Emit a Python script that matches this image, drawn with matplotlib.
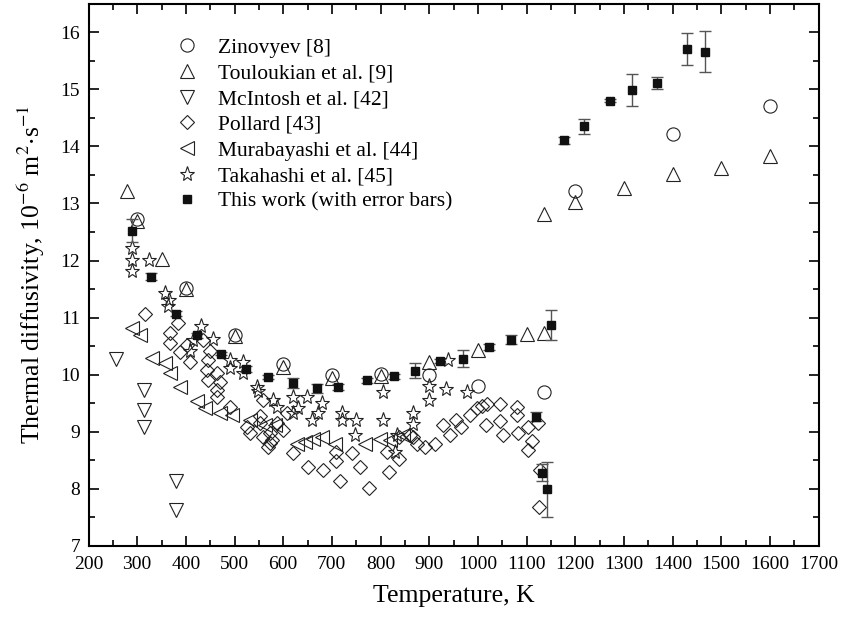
import matplotlib
matplotlib.use('Agg')
import matplotlib.pyplot as plt
from matplotlib.ticker import MultipleLocator

plt.rcParams['font.family'] = ['Liberation Serif', 'DejaVu Serif']
plt.rcParams['mathtext.fontset'] = 'stix'

# Zinovyev [8]
zin_T = [300, 400, 500, 600, 700, 800, 900, 1000, 1135, 1200, 1400, 1600]
zin_a = [12.72, 11.52, 10.70, 10.18, 9.99, 10.01, 10.00, 9.80, 9.70, 13.21, 14.21, 14.70]

# Touloukian et al. [9]
tou_T = [280, 300, 350, 400, 500, 600, 700, 800, 900, 1000, 1100, 1135, 1135, 1200, 1300, 1400, 1500, 1600]
tou_a = [13.22, 12.70, 12.02, 11.50, 10.68, 10.14, 9.95, 9.98, 10.22, 10.43, 10.72, 10.73, 12.82, 13.03, 13.27, 13.52, 13.62, 13.83]

# McIntosh et al. [42]
mci_T = [256, 315, 315, 315, 380, 380]
mci_a = [10.27, 9.73, 9.38, 9.08, 8.13, 7.63]

# Pollard [43]
pol_T = [316, 384, 367, 367, 388, 402, 408, 436, 450, 446, 443, 463, 446, 470, 463, 463,
         491, 525, 532, 552, 552, 559, 559, 573, 573, 569, 576, 587, 600, 607, 621, 650,
         681, 709, 709, 717, 741, 758, 777, 813, 818, 837, 838, 861, 867, 874, 892, 912,
         929, 943, 956, 966, 984, 998, 1008, 1017, 1018, 1046, 1046, 1052, 1080, 1080, 1083,
         1104, 1111, 1104, 1124, 1128, 1126]
pol_a = [11.07, 10.90, 10.73, 10.56, 10.39, 10.52, 10.23, 10.61, 10.41, 10.26, 10.08, 10.03, 9.91, 9.88, 9.73, 9.61,
         9.44, 9.09, 8.98, 9.27, 9.15, 8.91, 9.55, 8.98, 8.80, 8.73, 8.86, 9.15, 9.03, 9.32, 8.62, 8.38,
         8.33, 8.48, 8.65, 8.13, 8.62, 8.39, 8.02, 8.65, 8.30, 8.91, 8.53, 8.94, 8.91, 8.79, 8.73, 8.79,
         9.11, 8.94, 9.20, 9.09, 9.29, 9.41, 9.45, 9.11, 9.49, 9.49, 9.19, 8.94, 9.44, 9.30, 8.98,
         9.09, 8.83, 8.68, 9.15, 8.33, 7.68]

# Murabayashi et al. [44]
mur_T = [289, 306, 330, 357, 367, 388, 422, 439, 470, 494, 532, 563, 583, 628, 645, 662, 679, 707, 768, 799, 820, 847]
mur_a = [10.81, 10.70, 10.29, 10.20, 10.03, 9.79, 9.53, 9.41, 9.33, 9.29, 9.20, 9.11, 9.11, 8.79, 8.82, 8.88, 8.91, 8.79, 8.79, 8.88, 8.86, 8.94]

# Takahashi et al. [45]
tak_T = [290, 290, 290, 324, 358, 365, 363, 415, 408, 432, 456, 491, 518, 491, 518, 546, 549,
         580, 587, 621, 648, 631, 621, 679, 672, 659, 720, 720, 750, 748, 806, 806, 833, 830,
         867, 867, 900, 900, 935, 939, 978]
tak_a = [12.22, 12.01, 11.81, 12.01, 11.43, 11.31, 11.20, 10.60, 10.41, 10.86, 10.63, 10.26, 10.23, 10.11, 10.03, 9.78, 9.72,
         9.55, 9.43, 9.61, 9.61, 9.41, 9.32, 9.51, 9.32, 9.20, 9.32, 9.20, 9.20, 8.94, 9.70, 9.20, 8.94, 8.65,
         9.32, 9.14, 9.80, 9.55, 9.75, 10.26, 9.70]

# This work
tw_T = [289, 329, 379, 423, 473, 524, 569, 621, 669, 713, 772, 828, 871, 922, 969, 1022, 1068,
        1120, 1131, 1142, 1150, 1176, 1218, 1272, 1316, 1369, 1430, 1467]
tw_a = [12.52, 11.72, 11.07, 10.69, 10.37, 10.10, 9.96, 9.85, 9.76, 9.78, 9.90, 9.97, 10.07, 10.24, 10.28, 10.49, 10.61,
        9.26, 8.28, 7.99, 10.87, 14.11, 14.35, 14.80, 14.98, 15.11, 15.71, 15.66]
tw_err = [0.20, 0.06, 0.04, 0.04, 0.03, 0.05, 0.03, 0.09, 0.08, 0.05, 0.04, 0.05, 0.13, 0.03, 0.15, 0.05, 0.08,
          0.08, 0.15, 0.48, 0.26, 0.06, 0.13, 0.03, 0.28, 0.11, 0.28, 0.36]

fig = plt.figure(figsize=(8.43, 6.21), dpi=100)
ax = fig.add_axes([0.105, 0.121, 0.866, 0.873])

ec = '#222222'
kw = dict(ls='none', mfc='none', mec=ec, mew=0.8)
ax.plot(zin_T, zin_a, marker='o', ms=9.5, label='Zinovyev [8]', **kw)
ax.plot(tou_T, tou_a, marker='^', ms=10.5, label='Touloukian et al. [9]', **kw)
ax.plot(mci_T, mci_a, marker='v', ms=10.5, label='McIntosh et al. [42]', **kw)
ax.plot(pol_T, pol_a, marker='D', ms=7.5, label='Pollard [43]', **kw)
ax.plot(mur_T, mur_a, marker='<', ms=10.5, label='Murabayashi et al. [44]', **kw)
ax.plot(tak_T, tak_a, marker='*', ms=11, label='Takahashi et al. [45]', **kw)
ax.errorbar(tw_T, tw_a, yerr=tw_err, fmt='none', ecolor='#555555', elinewidth=1.0, capsize=4, capthick=1.0)
ax.plot(tw_T, tw_a, ls='none', marker='s', ms=5.5, color='#111111', label='This work (with error bars)')

ax.set_xlim(200, 1700)
ax.set_ylim(7, 16.5)
ax.xaxis.set_major_locator(MultipleLocator(100))
ax.xaxis.set_minor_locator(MultipleLocator(50))
ax.yaxis.set_major_locator(MultipleLocator(1))
ax.yaxis.set_minor_locator(MultipleLocator(0.5))
ax.tick_params(which='both', direction='in', top=True, right=True, labelsize=14, width=1.2)
ax.tick_params(which='major', length=7)
ax.tick_params(which='minor', length=4)
ax.tick_params(axis='x', pad=7)
ax.tick_params(axis='y', pad=6)
for s in ax.spines.values():
    s.set_linewidth(1.5)

ax.set_xlabel('Temperature, K', fontsize=18.5, labelpad=9)
ax.set_ylabel(r'Thermal diffusivity, 10$^{-6}$ m$^{2}$$\cdot$s$^{-1}$', fontsize=18.5, labelpad=10)

ax.legend(loc='upper left', bbox_to_anchor=(0.085, 0.965), frameon=False, fontsize=15.5,
          handletextpad=0.45, labelspacing=0.26, borderaxespad=0.3)

fig.savefig('out.png', dpi=100)
